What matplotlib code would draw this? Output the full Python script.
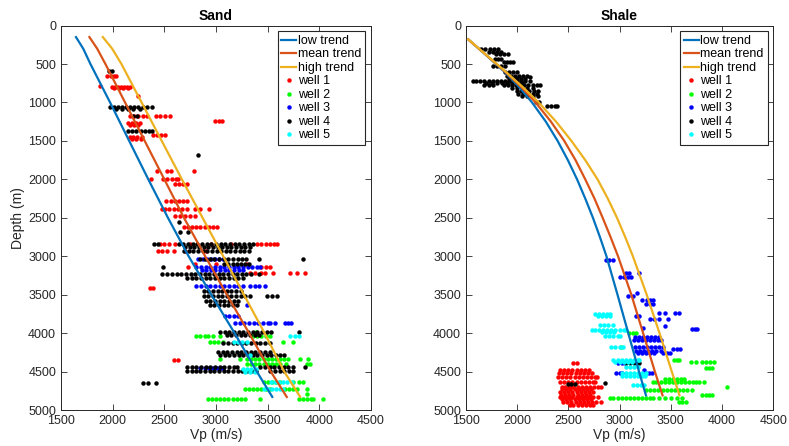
import matplotlib
matplotlib.use("Agg")
import matplotlib.pyplot as plt

plt.rcParams['font.family'] = ['Liberation Sans', 'DejaVu Sans']

# trend lines (depth in m, Vp in m/s)
sand_depth = [150, 300, 500, 1000, 1500, 2000, 2500, 3000, 3500, 4000, 4500, 4830]
sand_low = [1645, 1715, 1785, 1975, 2160, 2345, 2535, 2735, 2955, 3180, 3395, 3545]
sand_mean = [1775, 1850, 1930, 2120, 2310, 2500, 2690, 2895, 3105, 3320, 3530, 3685]
sand_high = [1905, 1995, 2085, 2280, 2475, 2670, 2870, 3070, 3270, 3470, 3660, 3815]

shale_depth = [180, 400, 600, 800, 1000, 1250, 1500, 1750, 2000, 2250, 2500, 2750, 3000,
               3500, 4000, 4500, 4810]
shale_low = [1522, 1710, 1875, 2020, 2145, 2280, 2395, 2495, 2585, 2665, 2740, 2808, 2872,
             2980, 3085, 3190, 3258]
shale_mean = [1522, 1712, 1882, 2040, 2180, 2330, 2460, 2570, 2665, 2755, 2835, 2912, 2985,
              3115, 3230, 3345, 3420]
shale_high = [1522, 1714, 1888, 2055, 2210, 2380, 2530, 2665, 2785, 2885, 2975, 3055, 3130,
              3265, 3390, 3510, 3585]

# well data, rows of (depth, [Vp values])
sand_w1 = [
    (650, [1950, 1980, 2010, 2030]), (782, [1880]),
    (800, [1990, 2020, 2050, 2080, 2110, 2140, 2170]), (815, [2010, 2060, 2100, 2150]),
    (912, [2250]), (1180, [2170, 2210, 2250, 2290, 2330, 2420, 2460, 2510, 2555]),
    (1245, [2990, 3030, 3060]), (1266, [2150, 2190, 2230, 2260]), (1290, [2170, 2210, 2250]),
    (1420, [2390, 2430, 2470, 2510]), (1452, [2170, 2200, 2240, 2280]), (1475, [2190, 2230, 2270]),
    (1892, [2430, 2530, 2560, 2790]), (2000, [2370, 2490, 2530, 2570, 2610, 2635]),
    (2060, [2600, 2640, 2680, 2720]), (2281, [2520, 2560, 2600, 2640, 2680, 2720]),
    (2389, [2475, 2510, 2550, 2590, 2630, 2670, 2720, 2800, 2850, 2930]),
    (2475, [2600, 2650, 2700, 2750, 2800]),
    (2626, [2690, 2730, 2770, 2810, 2850, 2890, 2930, 2970, 3010]),
    (2842, [2460, 2500, 2550, 2600, 2750, 2950, 3150, 3400, 3440, 3480, 3520, 3560, 3590]),
    (2937, [2440, 2480, 2530, 2590, 2700, 2900]), (3100, [2800, 3000, 3300]),
    (3144, [2730, 3440, 3480, 3520]),
    (3222, [3330, 3380, 3440, 3475, 3550, 3720, 3780, 3860]),
    (3416, [2360, 2390]), (4345, [2590, 2630]),
]
sand_w2 = [
    (3986, [3390]),
    (4038, [2810, 2850, 2890, 2925, 2970, 3040, 3360, 3400, 3440, 3480, 3520]),
    (4116, [2940, 2980, 3020, 3070, 3650, 3750]),
    (4340, [3040, 3230, 3300, 3340, 3380, 3420, 3460, 3500, 3540, 3580, 3620, 3660, 3700, 3815, 3895]),
    (4400, [3300, 3340, 3380, 3420, 3460, 3500, 3540, 3580, 3620, 3680, 3880, 3910]),
    (4634, [3460, 3500, 3540, 3580, 3620, 3750, 3800, 3845]),
    (4729, [3280, 3320, 3360, 3400, 3440, 3480, 3520, 3670, 3710, 3750, 3780, 3880]),
    (4790, [3880]),
    (4863, [2920, 2960, 3000, 3040, 3080, 3120, 3160, 3200, 3240, 3280, 3430, 3800, 3840, 3880, 3920, 3940, 4040]),
]
sand_w3 = [
    (3036, [2830, 2870, 2910, 2950, 2990, 3030, 3070]),
    (3144, [2810, 2855, 2900, 2945, 2990, 3035, 3080, 3125, 3170, 3215, 3260, 3305, 3350, 3395, 3426]),
    (3180, [2860, 2905, 2950, 2995, 3040, 3085, 3130, 3175, 3220, 3260]),
    (3382, [2810, 2855, 2900, 2945, 2990, 3035, 3080, 3125, 3170, 3215, 3260, 3330, 3375, 3420, 3470]),
    (3640, [3300]), (3783, [3090, 3130, 3170, 3215]),
    (3870, [3185, 3230, 3275, 3320, 3365, 3410, 3455, 3500, 3523, 3567, 3665, 3700, 3730]),
    (4455, [2850, 2890, 2930, 2970, 3010, 3050, 3070]),
]
sand_w4 = [
    (597, [1960, 1990]),
    (1063, [1970, 2010, 2050, 2090, 2130, 2170, 2210, 2250, 2290, 2330, 2380]),
    (1085, [2030, 2090, 2150, 2200, 2260]), (1170, [2200, 2240]),
    (1374, [2150, 2190, 2230, 2270, 2310, 2350, 2380]), (1685, [2830]),
    (2550, [2640]), (2690, [2650, 2730]),
    (2842, [2400, 2440, 2640, 2685, 2730, 2775, 2820, 2865, 2910, 2955, 3000, 3045, 3090,
            3135, 3180, 3225, 3270, 3315, 3360]),
    (2880, [2700, 2745, 2790, 2835, 2880, 2925, 2970, 3015, 3060, 3105, 3150, 3195, 3240, 3285, 3330]),
    (2928, [2690, 2735, 2780, 2825, 2870, 2915, 2960, 3005, 3050, 3095, 3140, 3185, 3230, 3275, 3320]),
    (3036, [2850, 2895, 2940, 2985, 3030, 3075, 3120, 3165, 3210, 3255, 3295, 3420, 3845]),
    (3100, [3080, 3120, 3160, 3200, 3240, 3280, 3320]), (3144, [2490]),
    (3230, [2475, 2530, 2570, 2620, 2665, 2710, 2755, 2800, 2845, 2890, 2935, 2980, 3025,
            3070, 3115, 3160, 3205, 3250, 3295, 3340, 3420]),
    (3280, [2720, 2765, 2810, 2855, 2900, 2945, 2990, 3035, 3080, 3125, 3170, 3215, 3260]),
    (3450, [2880, 2925, 2970, 3015, 3060, 3105, 3150, 3195, 3240]),
    (3512, [2880, 2925, 2970, 3015, 3060, 3105, 3150, 3195, 3240, 3285, 3330, 3490, 3540, 3590]),
    (3577, [2900, 2945, 2990, 3035, 3080, 3125, 3170, 3215]),
    (3640, [2940, 2985, 3030, 3075, 3120, 3165, 3200]),
    (3986, [3040, 3085, 3130, 3175, 3220, 3265, 3310, 3355, 3400, 3445, 3490, 3535, 3800]),
    (4030, [3105, 3150, 3195, 3240, 3285, 3330, 3375, 3420]),
    (4130, [3070, 3115, 3160, 3205, 3250, 3295, 3340, 3385, 3430, 3475, 3520]),
    (4245, [3020, 3065, 3110, 3155, 3200, 3245, 3290, 3335, 3380, 3425, 3470, 3520]),
    (4285, [3040, 3085, 3130, 3175, 3220, 3265, 3310, 3355, 3400, 3445, 3490, 3535, 3580, 3620, 3660]),
    (4440, [2720, 2765, 2810, 2855, 2900, 2945, 2990, 3035, 3080, 3125, 3170, 3200, 3430,
            3475, 3520, 3565, 3610, 3655, 3700, 3745, 3860]),
    (4492, [2720, 2765, 2810, 2850, 2895, 2940, 2985, 3030, 3075, 3120, 3165, 3210, 3255,
            3300, 3345, 3390, 3525, 3570, 3615, 3660, 3705, 3750]),
    (4650, [2290, 2340, 2420]),
]
sand_w5 = [
    (4038, [3720, 3760, 3800]), (4116, [3170, 3210, 3250, 3300]), (4290, [3330]),
    (4468, [3260, 3300, 3340, 3390]), (4500, [3280, 3330, 3380]),
    (4634, [3530, 3570, 3610, 3650, 3690, 3740]),
    (4729, [3460, 3500, 3540, 3580, 3620, 3650]),
]

shale_w1 = [
    (4383, [2550, 2580]),
    (4483, [2420, 2460, 2500, 2540, 2580, 2620, 2660, 2700]),
    (4525, [2410, 2450, 2490, 2530, 2570, 2610, 2650, 2690, 2730]),
    (4569, [2403, 2440, 2480, 2520, 2560, 2600, 2640, 2680, 2720, 2760, 2775]),
    (4634, [2420, 2460, 2500, 2540, 2580, 2620, 2660, 2700, 2740, 2758]),
    (4698, [2436, 2470, 2510, 2550, 2590, 2630, 2670, 2710, 2750, 2790, 2823]),
    (4730, [2440, 2480, 2520, 2560, 2600, 2640, 2680, 2720]),
    (4763, [2420, 2460, 2500, 2540, 2580, 2620, 2660, 2700, 2742]),
    (4800, [2430, 2470, 2510, 2550, 2590, 2630, 2670, 2710]),
    (4828, [2420, 2460, 2500, 2540, 2580, 2620, 2660, 2700, 2740, 2790]),
    (4860, [2440, 2480, 2520, 2560, 2600, 2640, 2680, 2720]),
    (4892, [2452, 2490, 2530, 2570, 2610, 2650, 2690, 2730, 2770, 2823]),
    (4937, [2516, 2550, 2590, 2630, 2670, 2710, 2742]),
]
shale_w2 = [
    (3995, [3097, 3130, 3160]), (4180, [3017]), (4353, [3533, 3560, 3581]),
    (4370, [3694, 3743, 3807, 3845, 3880, 3920]), (4453, [3840, 3870, 3900]),
    (4600, [3440, 3480, 3520, 3560, 3600, 3630]),
    (4634, [3323, 3360, 3400, 3440, 3480, 3520, 3560, 3600, 3640, 3680, 3720, 3743, 3780, 3820]),
    (4707, [4049]),
    (4742, [3259, 3300, 3340, 3380, 3420, 3460, 3500, 3540, 3580, 3620, 3660, 3710]),
    (4807, [3807, 3840, 3870, 3904]),
    (4850, [2904, 2940, 2980, 3020, 3060, 3100, 3140, 3180, 3220, 3260, 3300, 3323, 3388,
            3440, 3500, 3560, 3613]),
    (4893, [3581, 3610, 3646]),
]
shale_w3 = [
    (3049, [2870, 2900, 2935]), (3218, [3060, 3090, 3187]), (3274, [3000, 3040, 3080, 3110]),
    (3481, [3172]), (3512, [3080, 3130]), (3563, [3220, 3270, 3300, 3330]),
    (3620, [3260, 3300, 3330]), (3740, [3390, 3440, 3540, 3580]), (3779, [3160, 3190]),
    (3822, [3300, 3340, 3390, 3470]), (3908, [3443]), (3934, [3226]), (3952, [3710, 3740, 3760]),
    (4051, [3150, 3190, 3230, 3270, 3310, 3350, 3390]),
    (4094, [3140, 3180, 3220, 3260, 3300, 3340, 3380, 3404]),
    (4180, [3150, 3190, 3230, 3270, 3310, 3350, 3390, 3420]), (4202, [3520, 3560, 3590]),
    (4230, [3160, 3200, 3240, 3280, 3320, 3360, 3400]),
    (4260, [3180, 3220, 3260, 3300, 3340, 3420, 3460, 3490]),
    (4383, [2985, 3020, 3050]), (4483, [3240]), (4520, [2970, 3000, 3020, 3260, 3290, 3320]),
]
shale_w4 = [
    (310, [1650, 1690, 1730, 1770, 1810]), (340, [1720, 1760, 1800, 1840]),
    (370, [1790, 1830, 1870, 1910]), (430, [1780, 1810, 1840]), (480, [1870, 1900, 1930, 1960]),
    (530, [1760, 1800, 1840, 1880]), (600, [1880, 1920, 1960, 2000]),
    (650, [1900, 1940, 1980, 2020, 2060, 2100]), (675, [1930, 1980, 2130]),
    (700, [1920, 1960, 2000, 2040, 2080]),
    (718, [1565, 1600, 1640, 1680, 1720, 1760, 1800, 1840, 1880, 1920, 1960, 2000, 2040, 2080, 2130]),
    (745, [1700, 1750, 1800, 1850, 1900, 1950, 2000, 2050]),
    (778, [1680, 1720, 1760, 1870, 1910, 1950, 1990, 2030, 2070, 2110, 2150, 2190, 2220]),
    (810, [1950, 2000, 2050, 2100, 2150]), (850, [2000, 2040, 2080, 2120, 2160, 2200]),
    (885, [2010, 2060, 2110, 2150, 2190]), (920, [2050, 2100, 2150, 2200]),
    (1000, [2180, 2210]), (1050, [2290, 2330, 2370, 2390]),
    (4383, [3065, 3100, 3140, 3180, 3194]), (4650, [2855]), (4660, [2500, 2530, 2560]),
]
shale_w5 = [
    (3749, [2760, 2800, 2840, 2880, 2904]), (3779, [2790, 2830, 2870, 2910]),
    (3895, [2810, 2850, 2890, 2936]),
    (3960, [2726, 2760, 2800, 2840, 2880, 2920, 2960, 3000, 3040, 3065]),
    (3990, [2830, 2870, 2910, 2950]), (4033, [2860, 2900, 2940, 2980, 3000]),
    (4180, [2920, 2960, 3000, 3030]),
    (4344, [2940, 2980, 3020, 3060, 3100, 3140, 3180, 3194]),
    (4370, [2960, 3000, 3040, 3080, 3120]), (4440, [3060, 3100, 3140, 3180]),
    (4520, [3020, 3060, 3100, 3140, 3180, 3220, 3260]),
    (4560, [3020, 3060, 3100, 3140, 3180, 3220, 3250]),
    (4676, [3130, 3170, 3210, 3243]),
]

well_names = ['well 1', 'well 2', 'well 3', 'well 4', 'well 5']
well_colors = ['#ff0000', '#00ff00', '#0000ff', '#000000', '#00ffff']
trend_colors = ['#0072BD', '#D95319', '#EDB120']
trend_names = ['low trend', 'mean trend', 'high trend']


def flatten(rows):
    vp = [v for d, vals in rows for v in vals]
    depth = [d for d, vals in rows for v in vals]
    return vp, depth


def draw_panel(ax, title, depth, trends, wells):
    for x, c, name in zip(trends, trend_colors, trend_names):
        ax.plot(x, depth, color=c, lw=1.6, label=name, zorder=3)
    for rows, c, name in zip(wells, well_colors, well_names):
        vp, d = flatten(rows)
        ax.plot(vp, d, 'o', color=c, ms=3.2, mew=0, ls='none', label=name, zorder=2)
    ax.set_xlim(1500, 4500)
    ax.set_ylim(5000, 0)
    ax.set_xticks(range(1500, 4501, 500))
    ax.set_yticks(range(0, 5001, 500))
    ax.tick_params(direction='in', top=True, right=True, length=4, labelsize=9,
                   colors='#262626', width=0.6)
    for s in ax.spines.values():
        s.set_color('#262626')
        s.set_linewidth(0.7)
    ax.set_title(title, fontsize=10, fontweight='bold', pad=4)
    ax.set_xlabel('Vp (m/s)', fontsize=10, color='#262626', labelpad=1)
    leg = ax.legend(loc='upper right', fontsize=9, frameon=True, fancybox=False,
                    edgecolor='#262626', framealpha=1, borderpad=0.3, labelspacing=0.12,
                    handlelength=1.2, handletextpad=0.15, borderaxespad=0.45)
    leg.get_frame().set_linewidth(0.8)


fig = plt.figure(figsize=(7.89, 4.46), dpi=100)
ax1 = fig.add_axes([0.0773, 0.0807, 0.3929, 0.862])
ax2 = fig.add_axes([0.5906, 0.0807, 0.3893, 0.862])

draw_panel(ax1, 'Sand', sand_depth, [sand_low, sand_mean, sand_high],
           [sand_w1, sand_w2, sand_w3, sand_w4, sand_w5])
ax1.set_ylabel('Depth (m)', fontsize=10, color='#262626', labelpad=2)
draw_panel(ax2, 'Shale', shale_depth, [shale_low, shale_mean, shale_high],
           [shale_w1, shale_w2, shale_w3, shale_w4, shale_w5])

fig.savefig('out.png', dpi=100)
